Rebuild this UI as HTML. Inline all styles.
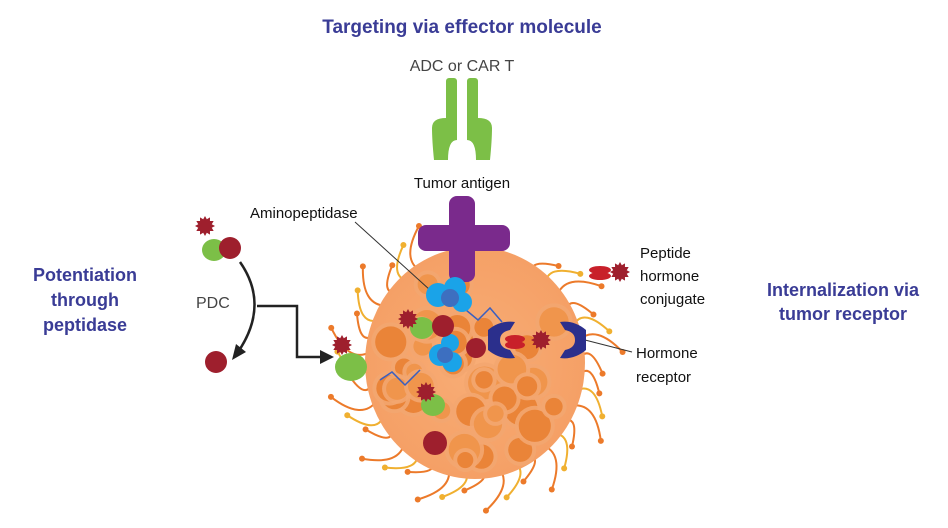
<!DOCTYPE html>
<html><head><meta charset="utf-8"><style>
body{margin:0;background:#fff;}
svg{display:block;font-family:"Liberation Sans",sans-serif;}
</style></head><body>
<svg id="s" width="948" height="528" viewBox="0 0 948 528">
<defs>
<radialGradient id="cell" cx="50%" cy="50%" r="50%">
<stop offset="0" stop-color="#f8ad76"/><stop offset="1" stop-color="#f5a066"/></radialGradient>
</defs>
<g id="spikes"></g>
<ellipse cx="475" cy="363" rx="110" ry="116" fill="url(#cell)"/>
<g id="blobs"></g>
<text x="462" y="33" text-anchor="middle" font-size="19" font-weight="bold" fill="#3a3c96">Targeting via effector molecule</text>
<text x="462" y="71" text-anchor="middle" font-size="16" fill="#444">ADC or CAR T</text>
<text x="462" y="188" text-anchor="middle" font-size="15" fill="#111">Tumor antigen</text>
<text x="250" y="218" font-size="15" fill="#111">Aminopeptidase</text>
<g font-size="18" font-weight="bold" fill="#3a3c96" text-anchor="middle">
<text x="85" y="281">Potentiation</text><text x="85" y="306">through</text><text x="85" y="331">peptidase</text>
<text x="843" y="296">Internalization via</text><text x="843" y="320">tumor receptor</text></g>
<text x="196" y="308" font-size="16" fill="#444">PDC</text>
<g font-size="15" fill="#111"><text x="640" y="258">Peptide</text><text x="640" y="281">hormone</text><text x="640" y="304">conjugate</text>
<text x="636" y="358">Hormone</text><text x="636" y="382">receptor</text></g>
<g fill="#7cbf47">
<rect x="446" y="78" width="11" height="52" rx="3"/><rect x="467" y="78" width="11" height="52" rx="3"/>
<path d="M432 128 Q432 118 446 118 L457 118 L457 140 Q448 140 448 160 L434 160 Q432 140 432 128Z"/>
<path d="M492 128 Q492 118 478 118 L467 118 L467 140 Q476 140 476 160 L490 160 Q492 140 492 128Z"/>
</g>
<g fill="#7a2a8c">
<rect x="449" y="196" width="26" height="86" rx="8"/>
<rect x="418" y="225" width="92" height="26" rx="8"/>
</g>
<line x1="355" y1="222" x2="430" y2="290" stroke="#333" stroke-width="1"/>
<line x1="585" y1="340" x2="632" y2="352" stroke="#333" stroke-width="1"/>
<polyline points="460,305 478,320 490,308 502,322" fill="none" stroke="#3a5fc0" stroke-width="1.5"/>
<polyline points="380,380 392,372 405,385 420,370" fill="none" stroke="#3a5fc0" stroke-width="1.5"/>
<g fill="#1aa3e8"><circle cx="438" cy="295" r="12"/><circle cx="455" cy="288" r="11"/><circle cx="462" cy="302" r="10"/><circle cx="440" cy="355" r="11"/><circle cx="450" cy="343" r="9"/><circle cx="452" cy="362" r="10"/></g>
<g fill="#3d6fc0"><circle cx="450" cy="298" r="9"/><circle cx="445" cy="355" r="8"/></g>
<g fill="#2b2f8c"><path d="M488 330 Q500 320 515 322 L510 330 Q500 332 500 340 Q500 348 510 350 L515 358 Q500 360 488 350Z"/>
<path d="M586 330 Q574 320 560 322 L565 330 Q575 332 575 340 Q575 348 565 350 L560 358 Q574 360 586 350Z"/></g>
<g fill="#c8202a"><ellipse cx="515" cy="339" rx="10" ry="4"/><ellipse cx="515" cy="345" rx="10" ry="4"/>
<ellipse cx="600" cy="270" rx="11" ry="4"/><ellipse cx="600" cy="276" rx="11" ry="4"/></g>
<g fill="#7cbf47"><ellipse cx="214" cy="250" rx="12" ry="11"/><ellipse cx="422" cy="328" rx="12" ry="11"/><ellipse cx="351" cy="367" rx="16" ry="14"/><ellipse cx="433" cy="405" rx="12" ry="11"/></g>
<g fill="#9e1f2d"><circle cx="230" cy="248" r="11"/><circle cx="216" cy="362" r="11"/><circle cx="443" cy="326" r="11"/><circle cx="476" cy="348" r="10"/><circle cx="435" cy="443" r="12"/></g>
<g id="stars" fill="#9e1f2d"></g>
<path d="M240 262 Q270 305 238 352" fill="none" stroke="#222" stroke-width="2.5"/>
<polygon points="232,360 236,344 246,352" fill="#222"/>
<polyline points="257,306 297,306 297,357 322,357" fill="none" stroke="#222" stroke-width="2.5"/>
<polygon points="334,357 320,350 320,364" fill="#222"/>
</svg>
<script>
var ns="http://www.w3.org/2000/svg",sp=document.getElementById("spikes"),bl=document.getElementById("blobs"),st=document.getElementById("stars");
function el(p,t,a){var e=document.createElementNS(ns,t);for(var k in a)e.setAttribute(k,a[k]);p.appendChild(e);return e;}
var cx=475,cy=363;
for(var i=0;i<40;i++){var a=i/40*Math.PI*2+0.1;var r1=106,r2=128+(i%3)*10;
var x1=cx+Math.cos(a)*r1,y1=cy+Math.sin(a)*r1,x2=cx+Math.cos(a+0.14)*r2,y2=cy+Math.sin(a+0.14)*r2;
var mx=cx+Math.cos(a-0.1)*(r1+r2)/2,my=cy+Math.sin(a-0.1)*(r1+r2)/2;
var c=i%3==1?"#f0b030":"#ec7a2a";
if(Math.sin(a)<-0.8&&Math.abs(Math.cos(a))<0.5)continue;
el(sp,"path",{d:"M"+x1+" "+y1+" Q"+mx+" "+my+" "+x2+" "+y2,stroke:c,"stroke-width":2,fill:"none"});
el(sp,"circle",{cx:x2,cy:y2,r:3,fill:c});}
var seed=7;function rnd(){seed=(seed*9301+49297)%233280;return seed/233280;}
for(var j=0;j<40;j++){var a=rnd()*Math.PI*2,d=Math.sqrt(rnd())*95;var x=cx+Math.cos(a)*d,y=cy+Math.sin(a)*d*1.05;var r=8+rnd()*9;
el(bl,"circle",{cx:x,cy:y,r:r+4,fill:"#f3a670",opacity:0.9});el(bl,"circle",{cx:x,cy:y,r:r,fill:rnd()<0.6?"#ea8438":"#f0954c"});}
function star(x,y,r){var p="";for(var k=0;k<24;k++){var a=k/24*Math.PI*2,rr=k%2?r*0.7:r;p+=(x+Math.cos(a)*rr)+","+(y+Math.sin(a)*rr)+" ";}el(st,"polygon",{points:p});}
star(205,226,10);star(408,319,10);star(342,345,10);star(426,392,10);star(541,340,10);star(620,272,10);
</script>
</body></html>
